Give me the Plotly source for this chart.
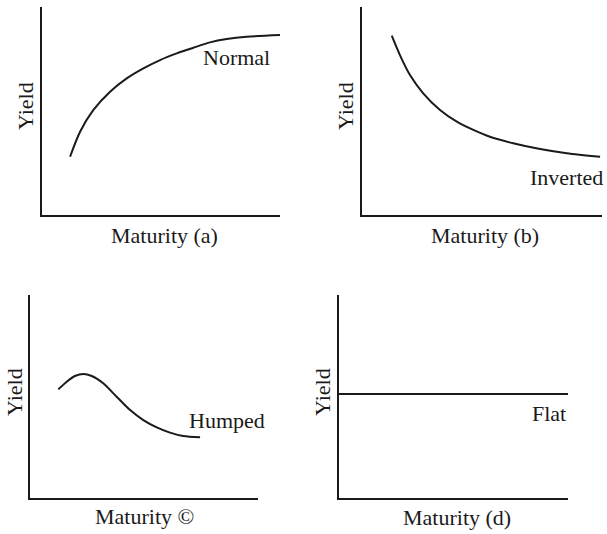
import plotly.graph_objects as go

W, H = 607, 534

# Data (arbitrary units; every axis range 0..10)
normal_x = [1.18, 1.60, 2.16, 2.86, 3.56, 4.26, 4.96, 5.66, 6.36, 7.06, 7.76, 8.60, 10.0]
normal_y = [2.80, 4.00, 5.05, 5.93, 6.57, 7.05, 7.45, 7.77, 8.04, 8.30, 8.46, 8.57, 8.65]

inverted_x = [1.24, 1.58, 2.00, 2.55, 3.25, 3.95, 4.64, 5.33, 6.30, 7.42, 8.53, 9.92]
inverted_y = [8.62, 7.69, 6.73, 5.85, 5.05, 4.49, 4.09, 3.76, 3.45, 3.17, 2.97, 2.80]

humped_x = [1.24, 1.61, 1.97, 2.34, 2.71, 3.21, 3.80, 4.39, 4.97, 5.56, 6.14, 6.72, 7.46]
humped_y = [5.35, 5.73, 6.01, 6.11, 6.01, 5.65, 4.99, 4.33, 3.84, 3.48, 3.22, 3.05, 2.99]

flat_x = [0, 10]
flat_y = [5.12, 5.12]

labels = ["Normal", "Inverted", "Humped", "Flat"]
x_titles = ["Maturity (a)", "Maturity (b)", "Maturity ©", "Maturity (d)"]
y_title = "Yield"

# panel boxes in reference pixels: (left, right, top, bottom)
boxes = [(42, 280, 7, 215), (362, 602, 7, 215), (30, 258, 295, 498), (339, 568, 295, 498)]

FONT = "Liberation Serif, Times New Roman, serif"
FS = 22
INK = "#1a1a1a"


def px_x(px):
    return px / W


def px_y(py):
    return 1 - py / H


fig = go.Figure()
series = [(normal_x, normal_y), (inverted_x, inverted_y), (humped_x, humped_y), (flat_x, flat_y)]

layout = dict(
    width=W, height=H, margin=dict(l=0, r=0, t=0, b=0, pad=0),
    paper_bgcolor="white", plot_bgcolor="white", showlegend=False,
)
annotations = []
for i, ((xs, ys), (l, r, t, b)) in enumerate(zip(series, boxes)):
    n = "" if i == 0 else str(i + 1)
    xa, ya = "xaxis" + n, "yaxis" + n
    xr, yr = "x" + n, "y" + n
    layout[xa] = dict(domain=[px_x(l), px_x(r)], range=[0, 10], showgrid=False,
                      zeroline=False, showticklabels=False, ticks="", showline=True,
                      linecolor=INK, linewidth=2, anchor=yr, fixedrange=True)
    layout[ya] = dict(domain=[px_y(b), px_y(t)], range=[0, 10], showgrid=False,
                      zeroline=False, showticklabels=False, ticks="", showline=True,
                      linecolor=INK, linewidth=2, anchor=xr, fixedrange=True)
    fig.add_trace(go.Scatter(x=xs, y=ys, mode="lines", xaxis=xr, yaxis=yr,
                             line=dict(color=INK, width=2, shape="spline", smoothing=0.8),
                             hoverinfo="skip"))

# curve labels (reference pixels: x, y-centre, anchor)
label_pos = [(272, 57, "right"), (605, 177, "right"), (187, 420, "left"), (568, 413, "right")]
for lab, (px, py, anc) in zip(labels, label_pos):
    annotations.append(dict(text=lab, x=px_x(px), y=px_y(py), xref="paper", yref="paper",
                            xanchor=anc, yanchor="middle", showarrow=False,
                            font=dict(family=FONT, size=FS, color=INK)))

# axis titles
xt_pos = [(164, 235), (485, 235), (144, 516), (457, 517)]
yt_pos = [(25, 106), (345, 106), (14, 392), (322, 392)]
for lab, (px, py) in zip(x_titles, xt_pos):
    annotations.append(dict(text=lab, x=px_x(px), y=px_y(py), xref="paper", yref="paper",
                            xanchor="center", yanchor="middle", showarrow=False,
                            font=dict(family=FONT, size=FS, color=INK)))
for (px, py) in yt_pos:
    annotations.append(dict(text=y_title, x=px_x(px), y=px_y(py), xref="paper", yref="paper",
                            xanchor="center", yanchor="middle", showarrow=False, textangle=-90,
                            font=dict(family=FONT, size=FS, color=INK)))

layout["annotations"] = annotations
fig.update_layout(**layout)
fig.write_html(
    "out.html",
    config={"displayModeBar": False},
    post_script="document.body.style.margin='0';document.body.style.overflow='hidden';",
)
